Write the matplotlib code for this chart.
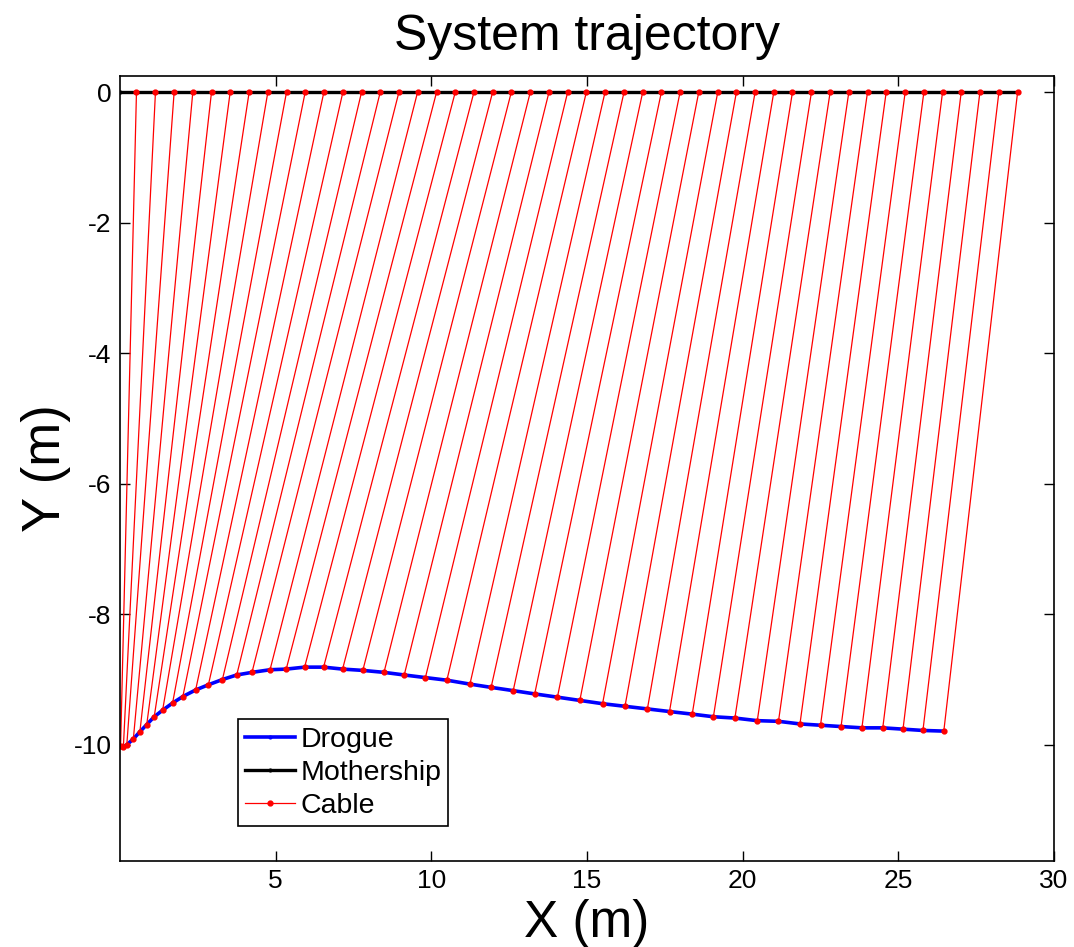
import matplotlib.pyplot as plt
import numpy as np

plt.rcParams['font.family'] = ['Liberation Sans', 'DejaVu Sans']
plt.rcParams['axes.unicode_minus'] = False

# drogue positions at each time step (m)
drogue_x = [0.02, 0.11, 0.22, 0.43, 0.64, 0.86, 1.10, 1.37, 1.69, 2.02, 2.43, 2.84,
            3.29, 3.75, 4.24, 4.82, 5.34, 5.93, 6.54, 7.15, 7.80, 8.48, 9.13, 9.81,
            10.50, 11.24, 11.92, 12.63, 13.32, 14.05, 14.77, 15.50, 16.22, 16.94, 17.65, 18.38,
            19.06, 19.75, 20.47, 21.15, 21.84, 22.50, 23.16, 23.83, 24.50, 25.15, 25.79, 26.46]
drogue_y = [-10.02, -10.03, -10.00, -9.91, -9.80, -9.69, -9.57, -9.47, -9.36, -9.26, -9.16, -9.08,
            -9.00, -8.93, -8.89, -8.85, -8.84, -8.81, -8.81, -8.84, -8.86, -8.89, -8.93, -8.97,
            -9.01, -9.07, -9.12, -9.17, -9.22, -9.27, -9.32, -9.37, -9.41, -9.45, -9.49, -9.53,
            -9.57, -9.59, -9.63, -9.64, -9.68, -9.70, -9.72, -9.74, -9.74, -9.76, -9.78, -9.79]

# mothership positions (surface, y = 0)
ship_x = [0.53, 1.14, 1.74, 2.34, 2.94, 3.54, 4.15, 4.75, 5.35, 5.95, 6.55, 7.16,
          7.76, 8.36, 8.96, 9.56, 10.17, 10.77, 11.37, 11.97, 12.57, 13.18, 13.78, 14.38,
          14.98, 15.58, 16.19, 16.79, 17.39, 17.99, 18.59, 19.20, 19.80, 20.40, 21.00, 21.60,
          22.21, 22.81, 23.41, 24.01, 24.61, 25.22, 25.82, 26.42, 27.02, 27.62, 28.23, 28.83]
ship_y = [0.0] * len(ship_x)

xticks = [5, 10, 15, 20, 25, 30]
yticks = [0, -2, -4, -6, -8, -10]

fig = plt.figure(figsize=(10.74, 9.47), dpi=100)
ax = fig.add_axes([0.1117, 0.0908, 0.8697, 0.8289])

hd, = ax.plot(drogue_x, drogue_y, color='blue', lw=2.6, marker='.', ms=4, label='Drogue')
hm, = ax.plot([0] + ship_x, [0] + ship_y, color='black', lw=2.4, marker='.', ms=4, label='Mothership')
hc = None
for xs, xd, yd in zip(ship_x, drogue_x, drogue_y):
    hc, = ax.plot([xd, xs], [yd, 0], color='red', lw=0.9, marker='.', ms=7, label='Cable')

ax.set_xlim(0, 30)
ax.set_ylim(-11.78, 0.245)
ax.set_xticks(xticks)
ax.set_yticks(yticks)
ax.tick_params(direction='in', top=True, right=True, labelsize=19, length=7, width=1, pad=6)
for s in ax.spines.values():
    s.set_linewidth(1.2)

ax.set_title('System trajectory', fontsize=36, pad=19)
ax.set_xlabel('X (m)', fontsize=37, labelpad=4)
ax.set_ylabel('Y (m)', fontsize=38, labelpad=2)

leg = ax.legend(handles=[hd, hm, hc], loc='lower left', bbox_to_anchor=(0.126, 0.044),
                fontsize=20.5, fancybox=False, edgecolor='black', framealpha=1,
                handlelength=1.75, handletextpad=0.2, borderpad=0.25, labelspacing=0.26,
                borderaxespad=0)
leg.get_frame().set_linewidth(1.2)

fig.savefig('out.png', dpi=100)
